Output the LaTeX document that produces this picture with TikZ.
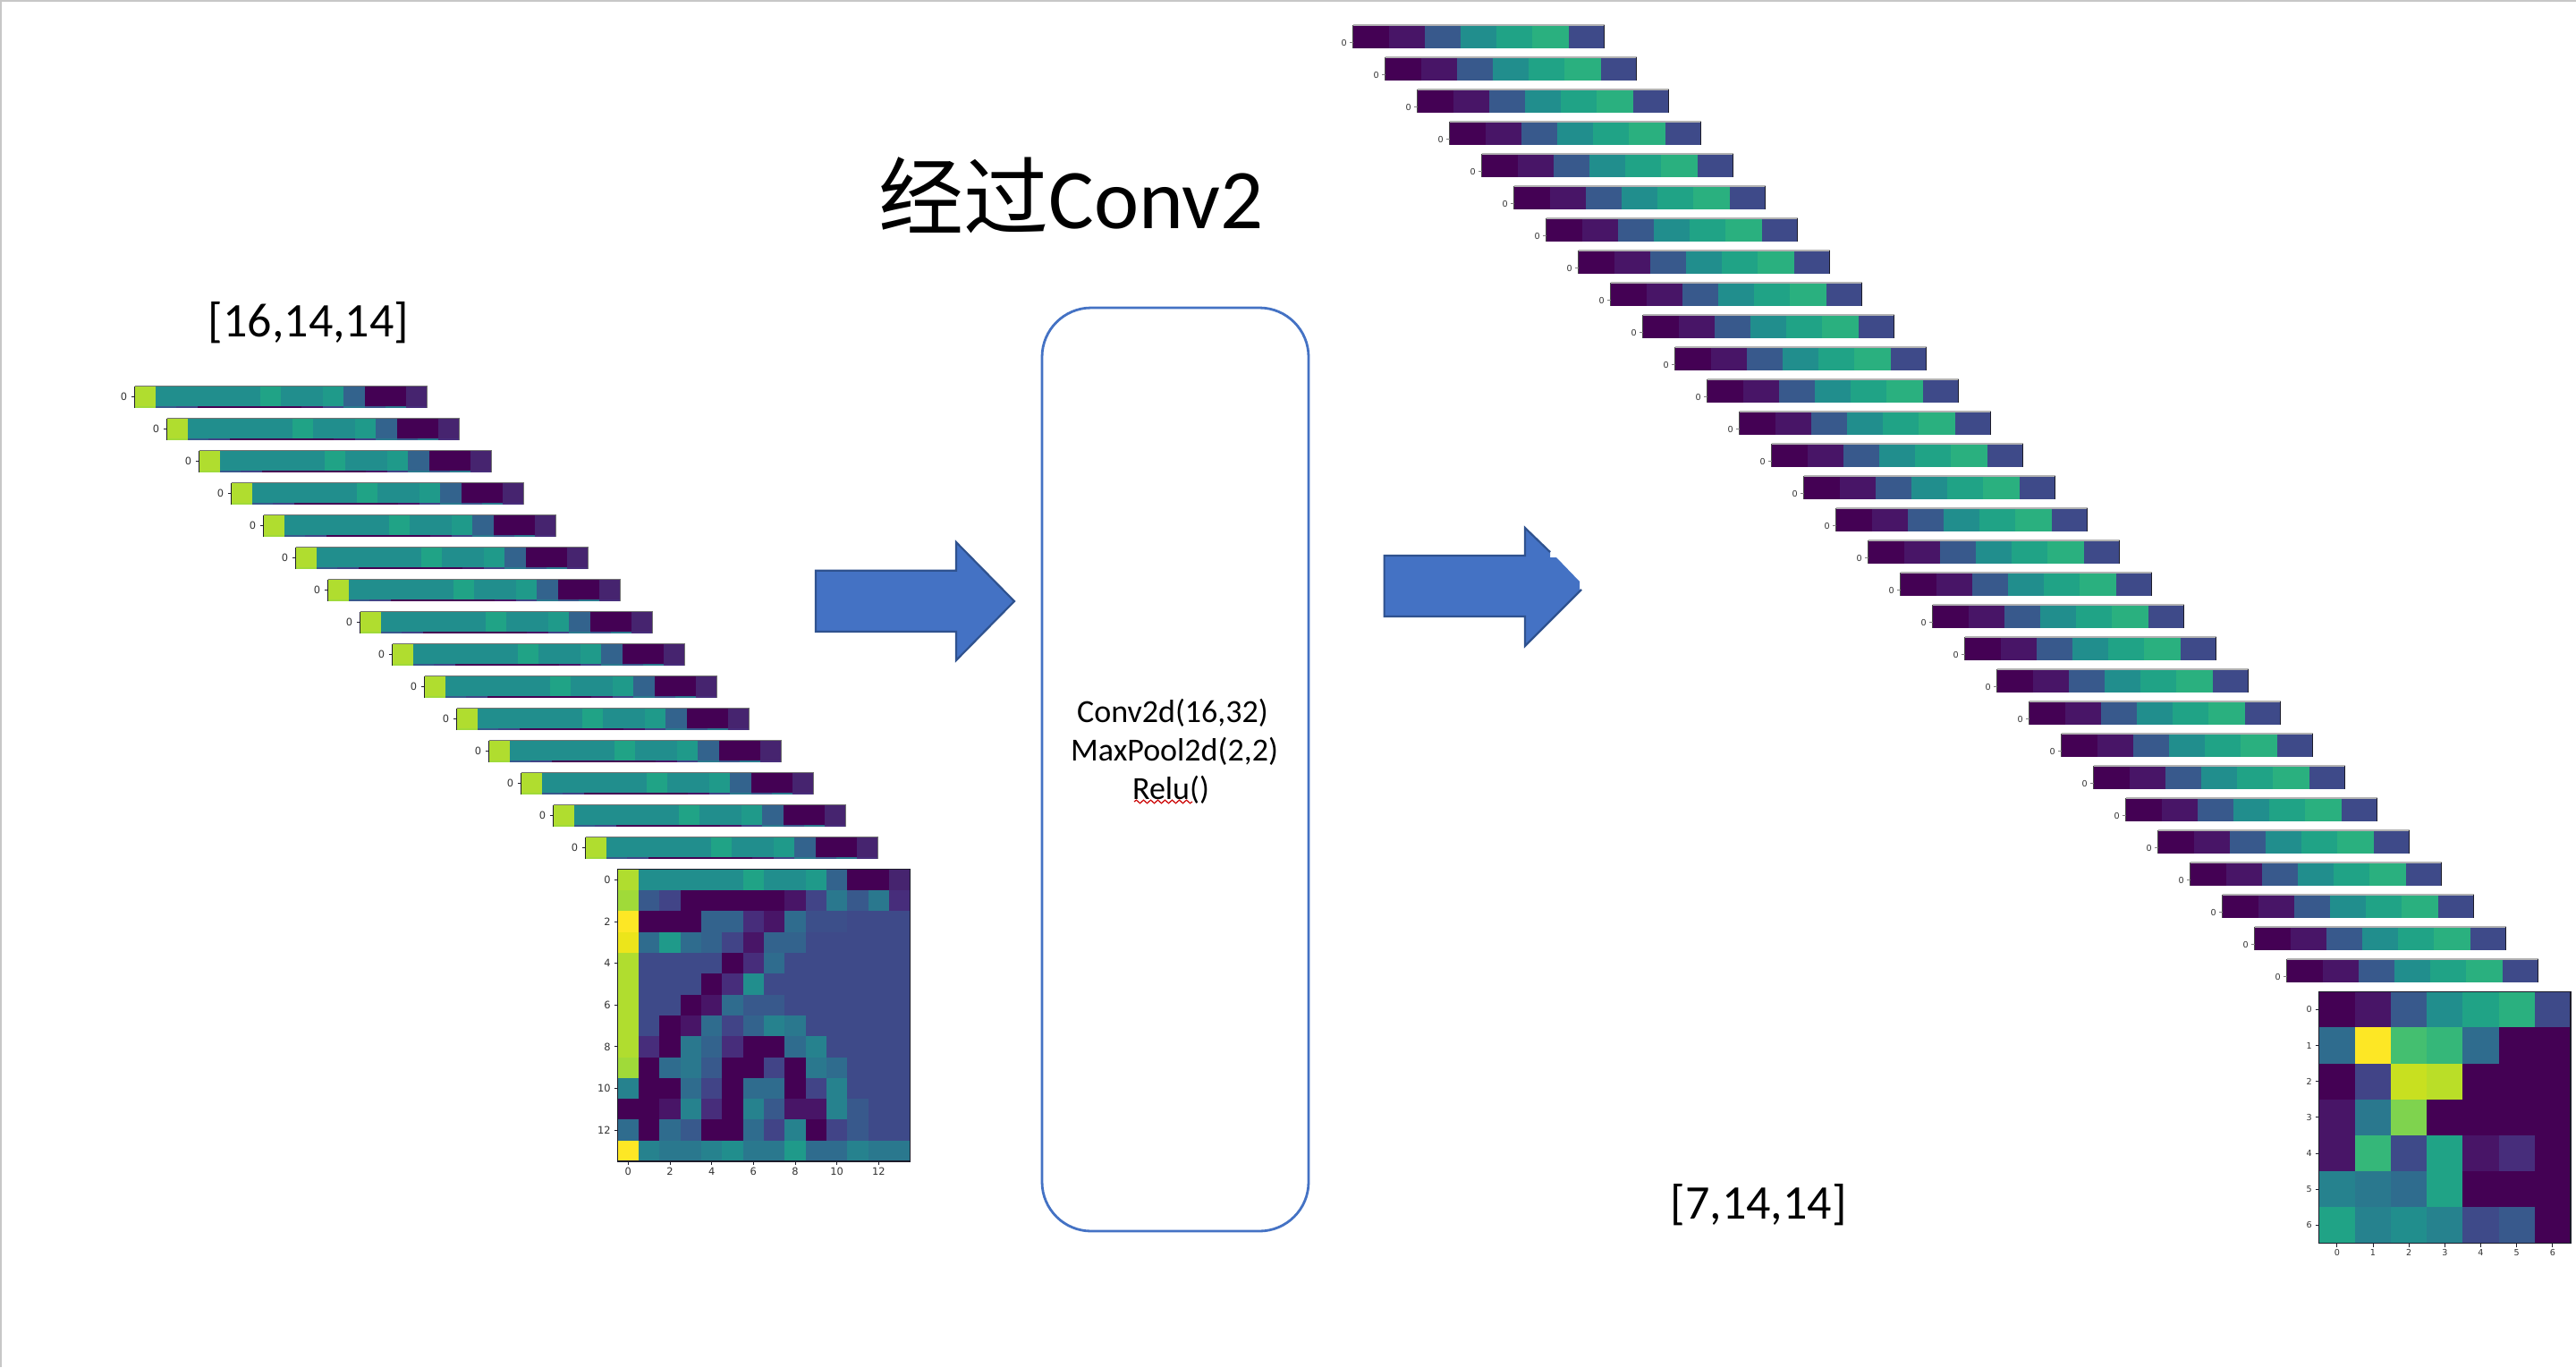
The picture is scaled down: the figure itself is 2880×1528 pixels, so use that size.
\documentclass[tikz,border=0pt]{standalone}
\usepackage{fontspec}
\setmainfont{Carlito}
\newfontfamily\cjkfont{Noto Sans CJK SC}
\newfontfamily\axisfont{DejaVu Sans}
\usetikzlibrary{decorations.pathmorphing}
\definecolor{va}{HTML}{440154}
\definecolor{vb}{HTML}{481567}
\definecolor{vc}{HTML}{472D7B}
\definecolor{vd}{HTML}{3E4A89}
\definecolor{ve}{HTML}{38598C}
\definecolor{vf}{HTML}{33638D}
\definecolor{vg}{HTML}{2F6C8E}
\definecolor{vh}{HTML}{2A788E}
\definecolor{vi}{HTML}{26828E}
\definecolor{vj}{HTML}{218E8D}
\definecolor{vk}{HTML}{1F9A8A}
\definecolor{vl}{HTML}{20A386}
\definecolor{vm}{HTML}{2AB07F}
\definecolor{vn}{HTML}{35B779}
\definecolor{vo}{HTML}{B0DD2F}
\definecolor{vp}{HTML}{A0DA39}
\definecolor{vq}{HTML}{FDE725}
\definecolor{vr}{HTML}{ECE51B}
\definecolor{vs}{HTML}{C8E020}
\definecolor{vt}{HTML}{7FD34E}
\definecolor{vu}{HTML}{46246F}
\definecolor{vw}{HTML}{414487}
\definecolor{vx}{HTML}{3C4F8A}
\definecolor{vy}{HTML}{BADE28}
\definecolor{vz}{HTML}{44BF70}
\definecolor{arrowfill}{HTML}{4472C4}
\definecolor{arrowline}{HTML}{2F528F}
\definecolor{axisline}{HTML}{1C1C2A}
\tikzset{
  blockarrow/.style={fill=arrowfill,draw=arrowline,line width=1.1,line join=miter},
  opbox/.style={draw=arrowfill,line width=1.4,rounded corners=27.5,fill=none},
  bigtext/.style={font=\fontsize{27}{30}\selectfont,inner sep=0},
  optext/.style={font=\fontsize{18}{21.5}\selectfont,inner sep=0,align=center},
  ticklabel/.style={font=\axisfont\fontsize{5.7}{6}\selectfont,inner sep=0,text=black!80},
  smalltick/.style={font=\axisfont\fontsize{4.8}{5}\selectfont,inner sep=0,text=black!80},
  axisframe/.style={draw=axisline,line width=0.55},
  tickline/.style={draw=axisline,line width=0.45}
}
\newcommand{\cellsrow}[5]{% list macro, x0, cell width, y0, height
  \foreach \c [count=\i from 0] in #1 {
    \fill[fill=v\c] ({#2+\i*#3},{#4}) rectangle ({#2+(\i+1)*#3},{#4+#5});
  }
}
\def\LrowA{o,j,j,j,j,j,l,j,j,k,f,a,a,u}
\def\LrowB{p,e,w,a,a,a,a,a,b,w,h,e,h,c}
\def\RrowA{a,b,e,j,l,m,d}
\begin{document}
\begin{tikzpicture}[x=0.5pt,y=-0.5pt]
\useasboundingbox (0,0) rectangle (2880,1528);
\fill[white] (0,0) rectangle (2880,1528);
\draw[black!22,line width=1] (1,1528) -- (1,1) -- (2880,1);

% left strips
\foreach \s in {0,...,14} {
  \pgfmathsetmacro{\sx}{150.6+36*\s}
  \pgfmathsetmacro{\sy}{431.7+36*\s}
  \cellsrow{\LrowA}{\sx}{23.36}{\sy}{21.8}
  \cellsrow{\LrowB}{\sx}{23.36}{\sy+21.8}{2.2}
  \draw[black!55,line width=0.55] (\sx,\sy) -- (\sx+327,\sy);
  \draw[axisline,line width=0.55] (\sx,\sy) -- (\sx,\sy+24);
  \draw[black!55,line width=0.55] (\sx+327,\sy) -- (\sx+327,\sy+24);
  \draw[tickline] (\sx-4,\sy+11.7) -- (\sx,\sy+11.7);
  \node[ticklabel,anchor=east] (ls\s) at (\sx-8,\sy+11.7) {0};
}

% left matrix
\foreach \row [count=\r from 0] in {
  {o,j,j,j,j,j,l,j,j,k,f,a,a,u},
  {p,e,w,a,a,a,a,a,b,w,h,e,h,c},
  {q,a,a,a,f,f,c,b,g,x,x,d,d,d},
  {r,g,k,g,f,w,b,f,f,d,d,d,d,d},
  {o,d,d,d,d,a,c,g,d,d,d,d,d,d},
  {o,d,d,d,a,c,j,d,d,d,d,d,d,d},
  {o,d,d,a,b,g,e,e,d,d,d,d,d,d},
  {o,d,a,b,g,w,f,i,h,d,d,d,d,d},
  {o,c,a,h,f,c,a,a,g,i,d,d,d,d},
  {p,a,g,h,e,a,a,w,a,h,g,d,d,d},
  {i,a,a,g,w,a,g,g,a,w,i,d,d,d},
  {a,a,b,i,c,a,i,e,b,b,i,e,d,d},
  {g,a,g,e,a,a,g,w,i,a,w,e,d,d},
  {q,i,h,h,i,j,h,h,k,g,g,i,h,h}} {
  \pgfmathsetmacro{\ry}{971.7+23.31*\r}
  \cellsrow{\row}{690.7}{23.33}{\ry}{23.31}
}
\draw[axisframe] (690.7,971.7) rectangle (1017.3,1298);
\foreach \t in {0,2,...,12} {
  \pgfmathsetmacro{\ty}{971.7+23.31*(\t+0.5)}
  \pgfmathsetmacro{\tx}{690.7+23.33*(\t+0.5)}
  \draw[tickline] (686.5,\ty) -- (690.7,\ty);
  \draw[tickline] (\tx,1298) -- (\tx,1302);
  \node[ticklabel,anchor=east] (ly\t) at (683,\ty) {\t};
  \node[ticklabel,anchor=north] (lx\t) at (\tx,1305) {\t};
}

% right strips
\foreach \s in {0,...,29} {
  \pgfmathsetmacro{\sx}{1512.7+36*\s}
  \pgfmathsetmacro{\sy}{28+36*\s}
  \cellsrow{\RrowA}{\sx}{40.15}{\sy}{25.7}
  \draw[black!30,line width=0.55] (\sx,\sy) -- (\sx+281,\sy);
  \draw[black!70,line width=0.55] (\sx,\sy) -- (\sx,\sy+25.7);
  \draw[axisline,line width=0.55] (\sx+281,\sy) -- (\sx+281,\sy+25.7);
  \draw[black!50,line width=0.45] (\sx-3.5,\sy+19.7) -- (\sx,\sy+19.7);
  \node[smalltick,anchor=east] (rs\s) at (\sx-6.5,\sy+19.7) {0};
}

% right matrix
\foreach \row [count=\r from 0] in {
  {a,b,e,j,l,m,d},
  {g,q,z,n,g,a,a},
  {a,w,s,y,a,a,a},
  {b,h,t,a,a,a,a},
  {b,n,d,l,b,c,a},
  {i,h,g,l,a,a,a},
  {l,i,j,i,d,e,a}} {
  \pgfmathsetmacro{\ry}{1108.3+40.14*\r}
  \cellsrow{\row}{2592.7}{40.18}{\ry}{40.14}
}
\draw[axisframe] (2592.7,1108.3) rectangle (2874,1389.3);
\foreach \t in {0,...,6} {
  \pgfmathsetmacro{\ty}{1108.3+40.14*(\t+0.5)}
  \pgfmathsetmacro{\tx}{2592.7+40.18*(\t+0.5)}
  \draw[tickline] (2588.5,\ty) -- (2592.7,\ty);
  \draw[tickline] (\tx,1389.3) -- (\tx,1393.5);
  \node[smalltick,anchor=east] (ry\t) at (2585,\ty) {\t};
  \node[smalltick,anchor=north] (rx\t) at (\tx,1396) {\t};
}

% arrows
\draw[blockarrow] (912,637.7) -- (1069,637.7) -- (1069,606) -- (1134,672) -- (1069,738) -- (1069,706) -- (912,706) -- cycle;
\fill[arrowfill] (1705,621) -- (1705,590) -- (1733,617) -- (1733,623) -- (1740,623) -- (1766,650) -- (1766,659) -- (1768,659) -- (1705,722) -- (1705,689) -- cycle;
\fill[arrowfill] (1547.6,621) rectangle (1706,689);
\draw[arrowline,line width=1.1,line join=miter] (1733,617) -- (1705,590) -- (1705,621) -- (1547.6,621) -- (1547.6,689) -- (1705,689) -- (1705,722) -- (1768,659);

% operation box
\node[opbox,minimum width=149pt,minimum height=516pt,inner sep=0] (op) at (1314,860) {};
\node[optext] (c1) at (1311,797) {Conv2d(16,32)};
\node[optext] (c2) at (1313,840) {MaxPool2d(2,2)};
\node[optext] (c3) at (1309,883) {Relu()};
\draw[red!80!black,line width=0.6,decorate,decoration={snake,amplitude=0.9,segment length=4}] (1268,896) -- (1333,896);

% texts
\node[font=\fontsize{47.5}{50}\selectfont,inner sep=0] (title) at (1198,218) {{\cjkfont 经过}Conv2};
\node[bigtext] (l1) at (345,361) {[16,14,14]};
\node[bigtext] (l2) at (1966,1347) {[7,14,14]};
\end{tikzpicture}
\end{document}
